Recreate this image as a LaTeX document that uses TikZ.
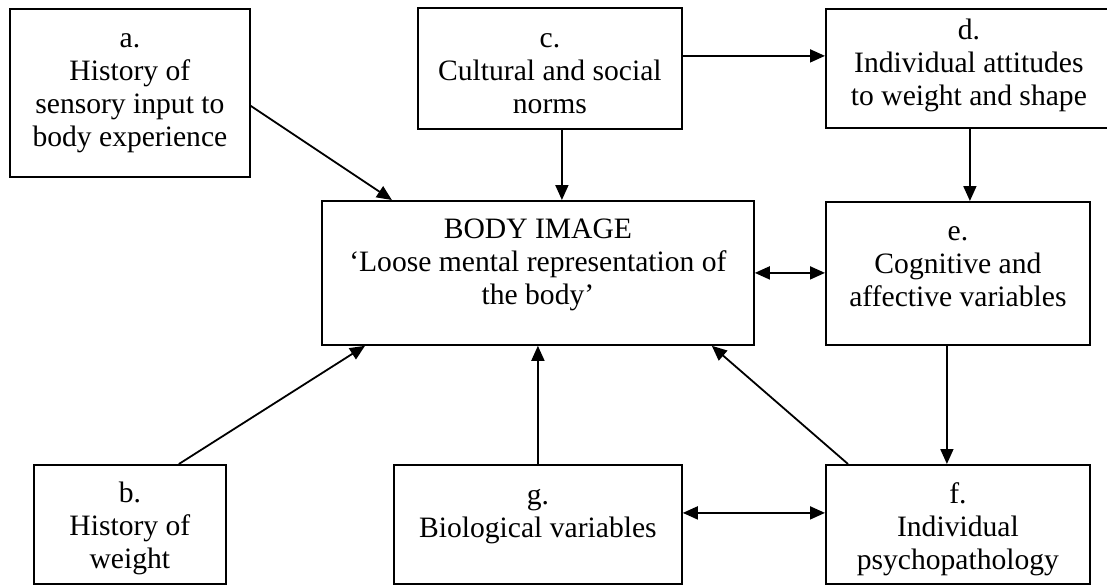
\documentclass[tikz,border=0pt]{standalone}
\usepackage{fontspec}
\setmainfont{Liberation Serif}
\usetikzlibrary{arrows.meta}
\newcommand{\bxt}[4]{\parbox[t][#2][t]{#1}{\centering\rule{0pt}{#3}#4}}
\begin{document}
\begin{tikzpicture}[x=1pt,y=-1pt,
  every node/.style={font=\fontsize{29.6}{33}\selectfont},
  box/.style={draw,line width=1.8pt,inner sep=0pt,anchor=north west},
  conn/.style={line width=1.8pt,-{Triangle[length=15pt,width=13pt]}},
  biconn/.style={line width=1.8pt,{Triangle[length=15pt,width=13pt]}-{Triangle[length=15pt,width=13pt]}}]
\useasboundingbox (0,0) rectangle (1107,584);
\clip (0,0) rectangle (1107,584);
\node[box] (a) at (9,8) {\bxt{240pt}{168pt}{39pt}{a.\\History of\\sensory input to\\body experience}};
\node[box] (c) at (417,7) {\bxt{264pt}{121pt}{40pt}{c.\\Cultural and social\\norms}};
\node[box] (d) at (825,8) {\bxt{286pt}{119pt}{31pt}{d.\\Individual attitudes\\to weight and shape}};
\node[box] (body) at (321,200) {\bxt{432pt}{144pt}{38pt}{BODY IMAGE\\‘Loose mental representation of\\the body’}};
\node[box] (e) at (825,201) {\bxt{264pt}{143pt}{39pt}{e.\\Cognitive and\\affective variables}};
\node[box] (b) at (33,464) {\bxt{192pt}{119pt}{38pt}{b.\\History of\\weight}};
\node[box] (g) at (393,464) {\bxt{288pt}{119pt}{40pt}{g.\\Biological variables}};
\node[box] (f) at (825,464) {\bxt{264pt}{119pt}{39pt}{f.\\Individual\\psychopathology}};
% connectors
\draw[conn] ([yshift=-13pt]a.east) -- ([xshift=-146pt]body.north);
\draw[conn] ([xshift=12pt]c.south) -- ([xshift=12pt]c.south |- body.north);
\draw[conn] ([yshift=12.5pt]c.east) coordinate (cd) -- (cd -| d.west);
\draw[conn] ([xshift=12pt]e.north |- d.south) -- ([xshift=12pt]e.north);
\draw[biconn] (body.east) -- (body.east -| e.west);
\draw[conn] ([xshift=-11pt]e.south) -- ([xshift=-11pt]f.north);
\draw[biconn] ([yshift=11.5pt]g.east) coordinate (gf) -- (gf -| f.west);
\draw[conn] (g.north) -- (g.north |- body.south);
\draw[conn] ([xshift=23pt]f.north west) -- ([xshift=-43pt]body.south east);
\draw[conn] ([xshift=49pt]b.north) -- ([xshift=44pt]body.south west);
\end{tikzpicture}
\end{document}
